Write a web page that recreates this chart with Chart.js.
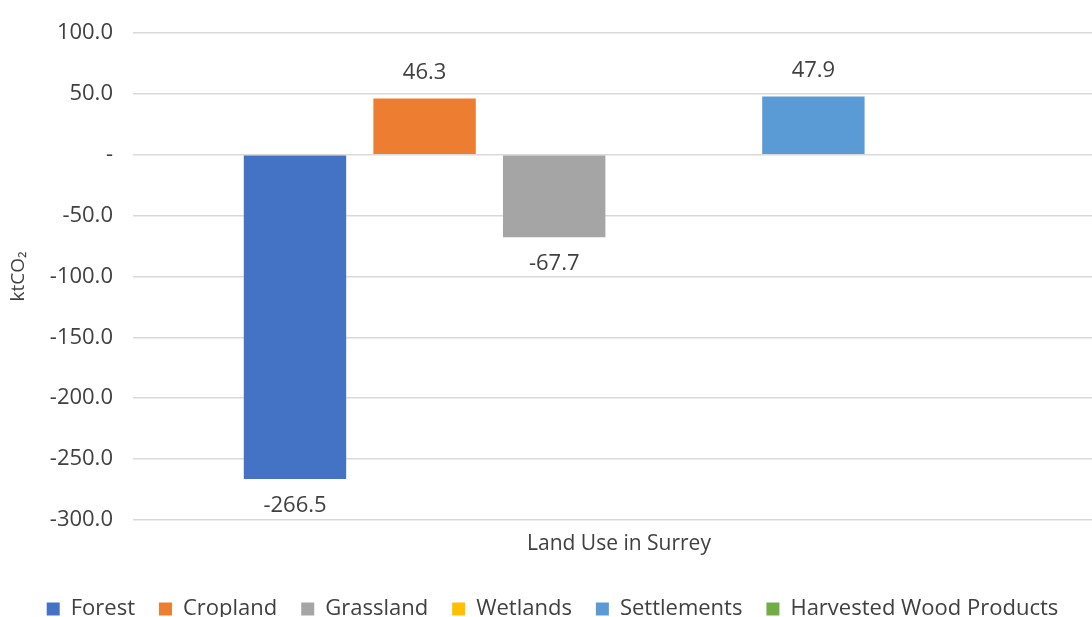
<!DOCTYPE html>
<html>
<head>
<meta charset="utf-8">
<script src="https://cdn.jsdelivr.net/npm/chart.js@4"></script>
<style>
  html, body { margin: 0; padding: 0; background: #fff; overflow: hidden; }
  #wrap { position: absolute; left: 0; top: 0; width: 1118px; height: 630px; }
</style>
</head>
<body>
<div id="wrap"><canvas id="landChart"></canvas></div>
<script>
const categories = ['Land Use in Surrey'];
const seriesNames = ['Forest', 'Cropland', 'Grassland', 'Wetlands', 'Settlements', 'Harvested Wood Products'];
const seriesValues = [-266.5, 46.3, -67.7, 0, 47.9, 0];
const seriesColors = ['#4472C4', '#ED7D31', '#A5A5A5', '#FFC000', '#5B9BD5', '#70AD47'];
const yTicks = [100, 50, 0, -50, -100, -150, -200, -250, -300];

const FONT = 'Open Sans';
const textColor = '#404040';

// value labels above positive bars, below negative ones; zero bars have no label
const barLabels = {
  id: 'barLabels',
  afterDatasetsDraw(chart) {
    const ctx = chart.ctx;
    ctx.save();
    ctx.font = `22px "${FONT}"`;
    ctx.fillStyle = textColor;
    ctx.textAlign = 'center';
    ctx.textBaseline = 'middle';
    chart.data.datasets.forEach((ds, i) => {
      const v = ds.data[0];
      if (!v) return;
      const bar = chart.getDatasetMeta(i).data[0];
      const y = v > 0 ? bar.y - 26 : bar.y + 27;
      ctx.fillText(v.toFixed(1), bar.x, y);
    });
    ctx.restore();
  }
};

const datasets = seriesNames.map((name, i) => ({
  label: name,
  data: [seriesValues[i]],
  backgroundColor: seriesColors[i],
  borderWidth: 0,
  categoryPercentage: 0.8,
  barPercentage: 0.79
}));

new Chart(document.getElementById('landChart'), {
  type: 'bar',
  data: { labels: categories, datasets },
  options: {
    responsive: true,
    maintainAspectRatio: false,
    animation: false,
    layout: { padding: { top: 7, right: 13, left: 0, bottom: 0 } },
    plugins: {
      tooltip: { enabled: false },
      legend: {
        position: 'bottom',
        labels: {
          color: textColor,
          font: { family: FONT, size: 22 },
          boxWidth: 13,
          boxHeight: 13,
          padding: 24
        }
      }
    },
    scales: {
      x: {
        grid: { display: false },
        border: { display: false },
        ticks: { color: textColor, font: { family: FONT, size: 21 }, padding: 4 },
        afterFit: (scale) => { scale.height += 13; }
      },
      y: {
        min: -300,
        max: 100,
        afterBuildTicks: (axis) => { axis.ticks = yTicks.map(v => ({ value: v })); },
        grid: { color: '#D9D9D9', lineWidth: 1.5, drawTicks: false },
        border: { display: false },
        ticks: {
          color: textColor,
          font: { family: FONT, size: 22 },
          padding: 20,
          callback: (v) => v === 0 ? '-' : v.toFixed(1)
        },
        title: {
          display: true,
          text: 'ktCO₂',
          color: textColor,
          font: { family: FONT, size: 19 },
          padding: { top: 7, bottom: 0 }
        }
      }
    }
  },
  plugins: [barLabels]
});
</script>
</body>
</html>
